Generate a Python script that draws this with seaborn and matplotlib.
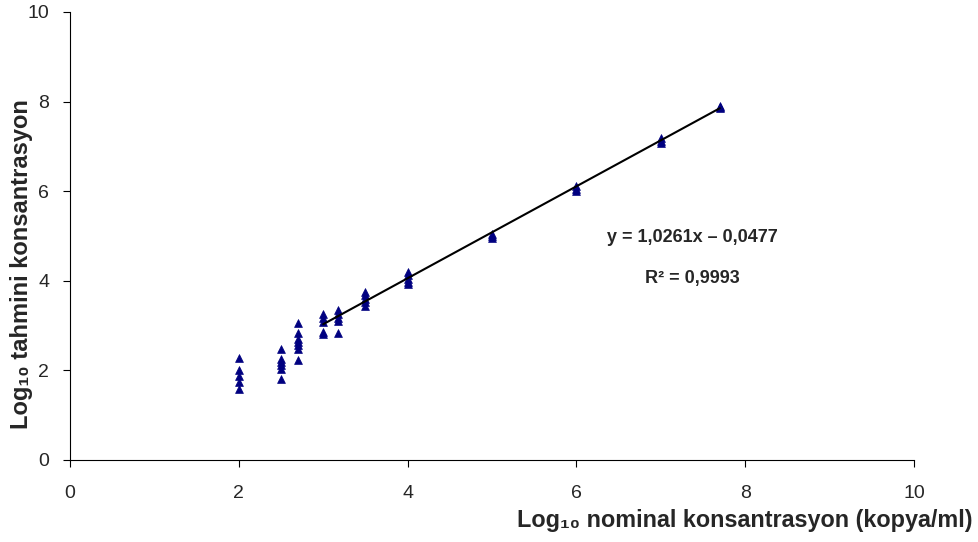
import numpy as np
import pandas as pd
import matplotlib
matplotlib.use("Agg")
import matplotlib.pyplot as plt
import seaborn as sns

# Data
x_nominal = [2, 2, 2, 2, 2,
             2.5, 2.5, 2.5, 2.5, 2.5, 2.5,
             2.7, 2.7, 2.7, 2.7, 2.7, 2.7, 2.7,
             3, 3, 3, 3, 3,
             3.18, 3.18, 3.18, 3.18, 3.18,
             3.5, 3.5, 3.5, 3.5, 3.5,
             4, 4, 4, 4, 4,
             5, 5, 5,
             6, 6, 6,
             7, 7, 7,
             7.7, 7.7, 7.7]
y_estimated = [2.28, 2.0, 1.87, 1.75, 1.58,
               2.48, 2.26, 2.18, 2.11, 2.04, 1.8,
               3.06, 2.84, 2.70, 2.63, 2.56, 2.47, 2.24,
               3.26, 3.18, 3.08, 2.85, 2.82,
               3.35, 3.26, 3.18, 3.11, 2.83,
               3.75, 3.68, 3.60, 3.52, 3.44,
               4.20, 4.12, 4.05, 3.98, 3.92,
               5.05, 5.0, 4.96,
               6.12, 6.05, 6.0,
               7.18, 7.12, 7.08,
               7.9, 7.87, 7.85]
slope = 1.0261
intercept = -0.0477
fit_range = [3, 7.7]
x_ticks = [0, 2, 4, 6, 8, 10]
y_ticks = [0, 2, 4, 6, 8, 10]
eq_text = "y = 1,0261x \u2013 0,0477"
r2_text = "R\u00b2 = 0,9993"
x_label = "Log\u2081\u2080 nominal konsantrasyon (kopya/ml)"
y_label = "Log\u2081\u2080 tahmini konsantrasyon"

sns.set_style("ticks")
plt.rcParams['font.family'] = ['Liberation Sans', 'DejaVu Sans']

df = pd.DataFrame({"x": x_nominal, "y": y_estimated})
fit_x = np.array(fit_range)
fit_df = pd.DataFrame({"x": fit_x, "y": slope * fit_x + intercept})

fig = plt.figure(figsize=(9.79, 5.42), dpi=100)
ax = fig.add_axes([70/979, 1 - 460/542, (914 - 70)/979, (460 - 12)/542])

sns.lineplot(data=fit_df, x="x", y="y", ax=ax, color="black", linewidth=1.5, zorder=3)
sns.scatterplot(data=df, x="x", y="y", ax=ax, marker="^", color="#000080",
                edgecolor="#000080", s=32, linewidth=0.5, zorder=2)

ax.set_xlim(0, 10)
ax.set_ylim(0, 10)
ax.set_xticks(x_ticks)
ax.set_yticks(y_ticks)
ax.tick_params(axis="x", direction="out", length=5, pad=13, labelsize=14, color="black")
ax.tick_params(axis="y", direction="out", length=5, pad=10, labelsize=14, color="black")
for lab in ax.get_yticklabels():
    lab.set_clip_on(False)
sns.despine(ax=ax)
ax.spines["left"].set_color("black")
ax.spines["bottom"].set_color("black")
ax.spines["left"].set_linewidth(0.8)
ax.spines["bottom"].set_linewidth(0.8)

ax.set_xlabel("")
ax.set_ylabel("")
fig.text(973/979, 1 - 521/542, x_label, ha="right", va="center",
         fontsize=16.8, fontweight="bold")
fig.text(22/979, 1 - 264/542, y_label, ha="center", va="center",
         rotation=90, fontsize=17, fontweight="bold")

ax.text(692/979, 1 - 237/542, eq_text, transform=fig.transFigure,
        ha="center", va="center", fontsize=13, fontweight="bold")
ax.text(692/979, 1 - 279/542, r2_text, transform=fig.transFigure,
        ha="center", va="center", fontsize=13, fontweight="bold")

fig.savefig("out.png", dpi=100)
